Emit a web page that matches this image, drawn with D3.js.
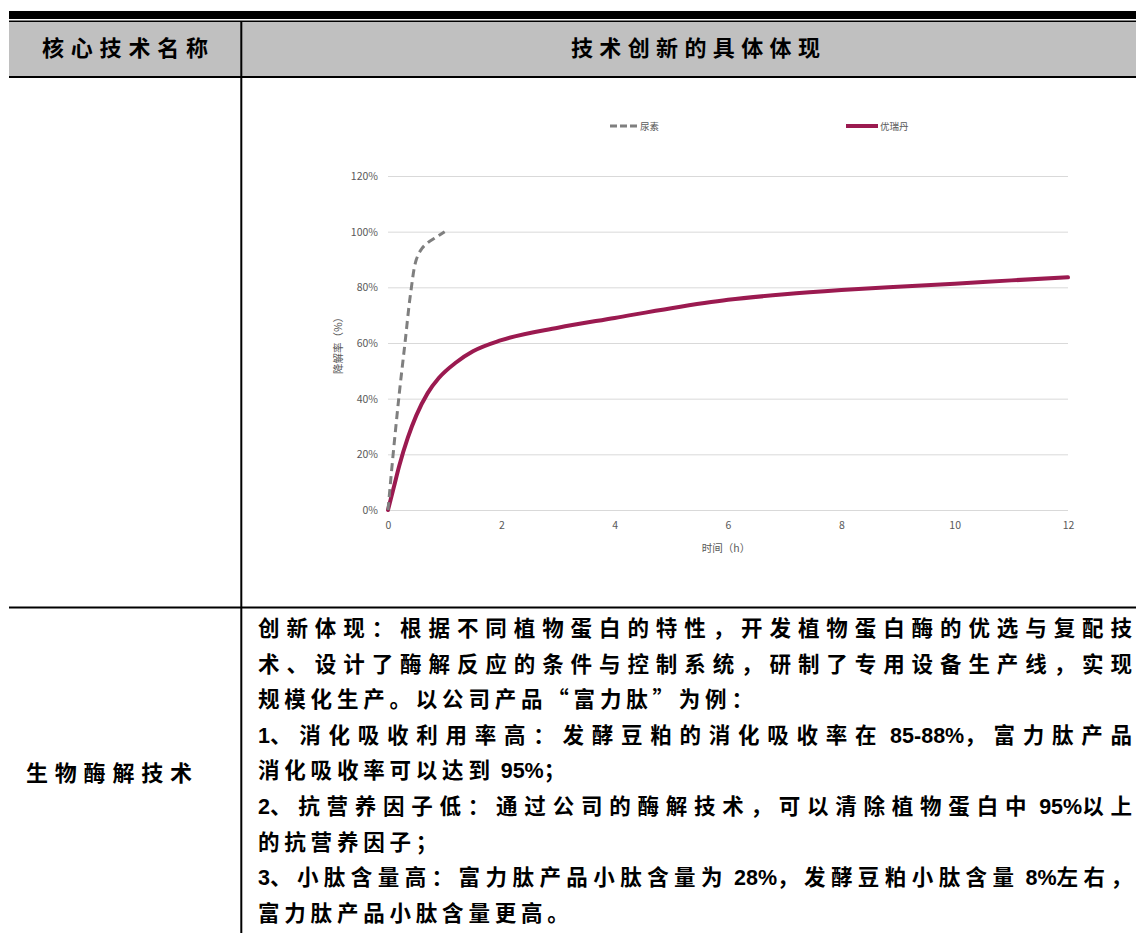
<!DOCTYPE html>
<html>
<head>
<meta charset="utf-8">
<script src="https://cdn.jsdelivr.net/npm/d3@7"></script>
<style>
  html, body { margin: 0; padding: 0; background: #fff; }
  svg { display: block; }
</style>
</head>
<body>
<div id="page"></div>
<script>
// table texts
const headerLeft = "核心技术名称";
const headerRight = "技术创新的具体体现";
const rowName = "生物酶解技术";
// [text, justified?]
const bodyLines = [
  ["创新体现：根据不同植物蛋白的特性，开发植物蛋白酶的优选与复配技", true],
  ["术、设计了酶解反应的条件与控制系统，研制了专用设备生产线，实现", true],
  ["规模化生产。以公司产品“富力肽”为例：", false],
  ["1、消化吸收利用率高：发酵豆粕的消化吸收率在 85-88%，富力肽产品", true],
  ["消化吸收率可以达到 95%；", false],
  ["2、抗营养因子低：通过公司的酶解技术，可以清除植物蛋白中 95%以上", true],
  ["的抗营养因子；", false],
  ["3、小肽含量高：富力肽产品小肽含量为 28%，发酵豆粕小肽含量 8%左右，", true],
  ["富力肽产品小肽含量更高。", false]
];

// chart data
const seriesNames = ["尿素", "优瑞丹"];
const ureaHours = [0, 0.1, 0.2, 0.3, 0.4, 0.5, 0.6, 0.7, 0.85, 1.0];
const ureaRate  = [0, 22, 42, 60, 78, 90, 94, 96, 98, 100];
const yrdHours = [0, 0.1, 0.2, 0.35, 0.5, 0.7, 0.9, 1.2, 1.5, 2, 3, 4, 5, 6, 7, 8, 9, 10, 11, 12];
const yrdRate  = [0, 8, 16, 26, 34, 42, 47.5, 53, 57, 61, 65.5, 69, 72.5, 75.5, 77.5, 79, 80.2, 81.3, 82.5, 83.6];
const xTicks = [0, 2, 4, 6, 8, 10, 12];
const yTicks = [0, 20, 40, 60, 80, 100, 120];

const W = 1136, H = 933;
const svg = d3.select("#page").append("svg").attr("width", W).attr("height", H);

const tableFont = "'Noto Sans CJK SC', sans-serif";
const latinFont = "'Liberation Sans', Arial, sans-serif";
const chartFont = "'Noto Sans CJK SC', 'Noto Sans', sans-serif";

// ---- table frame
svg.append("rect").attr("x", 9).attr("y", 11).attr("width", W - 9).attr("height", 8).attr("fill", "#000");
svg.append("rect").attr("x", 9).attr("y", 20.5).attr("width", W - 9).attr("height", 1.6).attr("fill", "#000");
svg.append("rect").attr("x", 9).attr("y", 22).attr("width", W - 9).attr("height", 54).attr("fill", "#c0c0c0");
svg.append("rect").attr("x", 9).attr("y", 76).attr("width", W - 9).attr("height", 2).attr("fill", "#000");
svg.append("rect").attr("x", 9).attr("y", 606.5).attr("width", W - 9).attr("height", 2).attr("fill", "#000");
svg.append("rect").attr("x", 240.3).attr("y", 21).attr("width", 2).attr("height", H - 21).attr("fill", "#000");

svg.append("text").attr("x", 42).attr("y", 56).attr("textLength", 166).attr("lengthAdjust", "spacing")
  .style("font-family", tableFont).style("font-weight", "bold").style("font-size", "22px")
  .text(headerLeft);
svg.append("text").attr("x", 571).attr("y", 56).attr("textLength", 249).attr("lengthAdjust", "spacing")
  .style("font-family", tableFont).style("font-weight", "bold").style("font-size", "22px")
  .text(headerRight);
svg.append("text").attr("x", 26).attr("y", 781).attr("textLength", 166).attr("lengthAdjust", "spacing")
  .style("font-family", tableFont).style("font-weight", "bold").style("font-size", "22px")
  .text(rowName);

// split a line into runs: cjk chars vs latin (digits, %, -, space);
// the last glyph is kept on its own so it carries no trailing gap
function split_runs(s) {
  let chars = Array.from(s);
  let lastCh = chars.pop();
  let runs = [];
  chars.forEach(function(ch) {
    let latin = /[0-9A-Za-z%\-; .]/.test(ch);
    let last = runs[runs.length - 1];
    if (last && last.latin == latin) { last.text += ch; }
    else { runs.push({text: ch, latin: latin}); }
  });
  runs.push({text: lastCh, latin: /[0-9A-Za-z%\-; .]/.test(lastCh), end: true});
  return runs;
}

bodyLines.forEach(function(l, i) {
  let runs = split_runs(l[0]);
  let t = svg.append("text")
    .attr("x", 258)
    .attr("y", 636 + i * 35.6)
    .attr("xml:space", "preserve")
    .style("font-weight", "bold").style("font-size", "21.5px");
  let spans = runs.map(function(r) {
    return t.append("tspan")
      .style("font-family", r.latin ? latinFont : tableFont)
      .text(r.text);
  });
  // measure natural widths
  let natural = 0, nGaps = 0;
  spans.forEach(function(sp, k) {
    natural += sp.node().getComputedTextLength();
    if (!runs[k].latin && !runs[k].end) nGaps += Array.from(runs[k].text).length;
  });
  let gap = 4.8;
  if (l[1]) gap = (1132 - 258 - natural) / nGaps;
  spans.forEach(function(sp, k) {
    if (!runs[k].latin && !runs[k].end) sp.style("letter-spacing", gap + "px");
  });
});

// ---- chart
let margin = {left: 388, top: 176},
    width = 1068 - 388,
    height = 510 - 176;

let g = svg.append("g").attr("transform", "translate(" + margin.left + "," + margin.top + ")");

let xScale = d3.scaleLinear().domain([0, 12]).range([0, width]);
let yScale = d3.scaleLinear().domain([0, 120]).range([height, 0]);

// gridlines
g.append("g")
  .call(d3.axisLeft(yScale).tickValues(yTicks).tickSize(-width).tickFormat(""))
  .call(function(a) { a.select(".domain").remove(); })
  .selectAll("line").attr("stroke", "#d9d9d9").attr("stroke-width", 1);

// y labels
g.append("g")
  .call(d3.axisLeft(yScale).tickValues(yTicks).tickSize(0).tickPadding(10).tickFormat(function(d) { return d + "%"; }))
  .call(function(a) { a.select(".domain").remove(); })
  .selectAll("text")
  .style("font-family", chartFont).style("font-size", "10.5px").attr("fill", "#595959");

// x labels
g.append("g")
  .attr("transform", "translate(0," + height + ")")
  .call(d3.axisBottom(xScale).tickValues(xTicks).tickSize(0).tickPadding(12))
  .call(function(a) { a.select(".domain").remove(); })
  .selectAll("text")
  .style("font-family", chartFont).style("font-size", "10.5px").attr("fill", "#595959");

// axis titles
g.append("text")
  .attr("x", 726 - margin.left).attr("y", height + 42)
  .style("text-anchor", "middle")
  .style("font-family", chartFont).style("font-size", "10.5px").attr("fill", "#595959")
  .text("时间（h）");

g.append("text")
  .attr("transform", "rotate(-90)")
  .attr("x", -(343 - margin.top)).attr("y", 338 - margin.left + 4)
  .style("text-anchor", "middle")
  .style("font-family", chartFont).style("font-size", "10.5px").attr("fill", "#595959")
  .text("降解率（%）");

let line = d3.line()
  .x(function(d) { return xScale(d[0]); })
  .y(function(d) { return yScale(d[1]); })
  .curve(d3.curveMonotoneX);

let yrdData = yrdHours.map(function(h, i) { return [h, yrdRate[i]]; });
let ureaData = ureaHours.map(function(h, i) { return [h, ureaRate[i]]; });

g.append("path").datum(yrdData)
  .attr("d", line).attr("fill", "none")
  .attr("stroke", "#9b1a50").attr("stroke-width", 4).attr("stroke-linecap", "round");

g.append("path").datum(ureaData)
  .attr("d", d3.line()
    .x(function(d) { return xScale(d[0]); })
    .y(function(d) { return yScale(d[1]); })
    .curve(d3.curveCatmullRom.alpha(0.5)))
  .attr("fill", "none")
  .attr("stroke", "#7f7f7f").attr("stroke-width", 3)
  .style("stroke-dasharray", "8, 5");

// legend
let legend = svg.append("g");
legend.append("line")
  .attr("x1", 610).attr("x2", 637).attr("y1", 126).attr("y2", 126)
  .attr("stroke", "#7f7f7f").attr("stroke-width", 3).style("stroke-dasharray", "7, 3");
legend.append("text").attr("x", 640).attr("y", 129.5)
  .style("font-family", chartFont).style("font-size", "9.5px").attr("fill", "#595959")
  .text(seriesNames[0]);
legend.append("line")
  .attr("x1", 846).attr("x2", 878).attr("y1", 126).attr("y2", 126)
  .attr("stroke", "#9b1a50").attr("stroke-width", 4);
legend.append("text").attr("x", 880).attr("y", 129.5)
  .style("font-family", chartFont).style("font-size", "9.5px").attr("fill", "#595959")
  .text(seriesNames[1]);
</script>
</body>
</html>
